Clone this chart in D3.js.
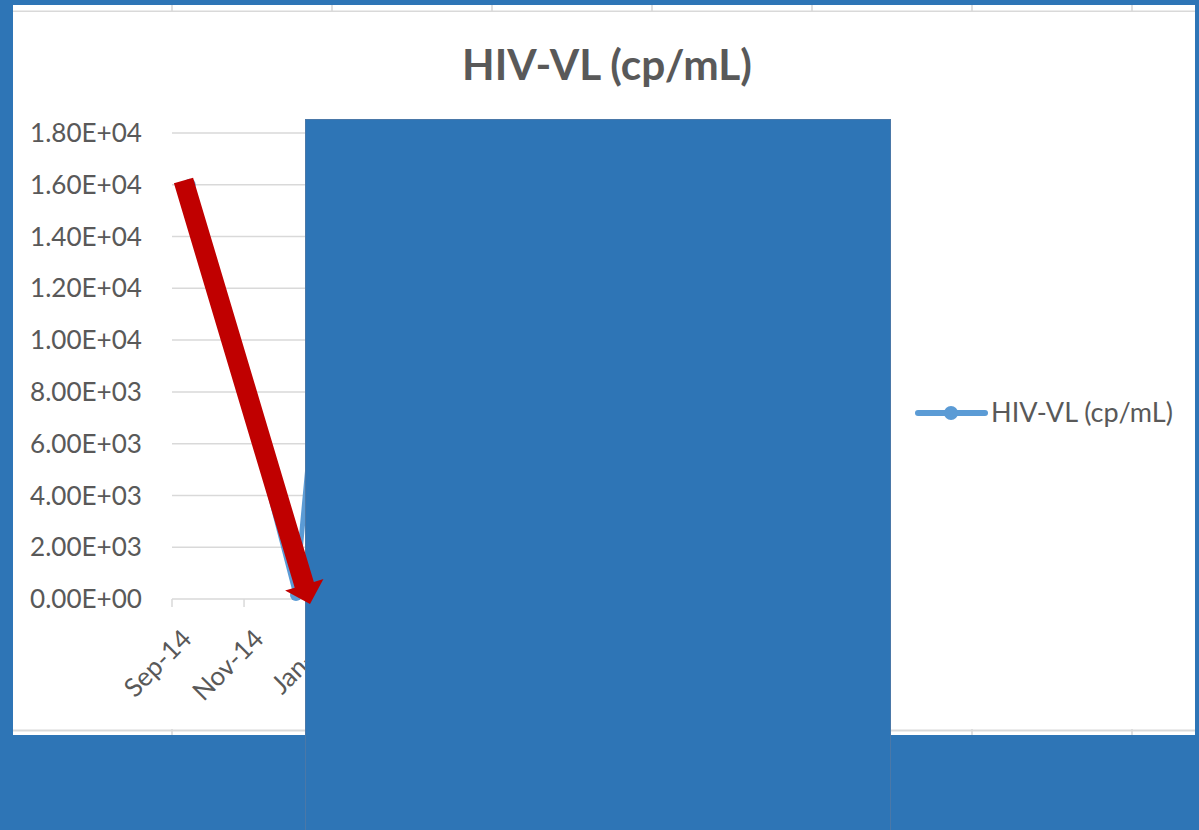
<!DOCTYPE html>
<html>
<head>
<meta charset="utf-8">
<script src="https://cdn.jsdelivr.net/npm/d3@7"></script>
<style>
  html, body { margin: 0; padding: 0; background: #2E75B6; overflow: hidden; }
  svg { display: block; }
</style>
</head>
<body>
<svg id="chart" width="1199" height="830"></svg>
<script>
// ---- data ----
const chartTitle = "HIV-VL (cp/mL)";
const seriesName = "HIV-VL (cp/mL)";
const sampleDates = ["2014-09-16", "2014-12-15", "2015-01-02"];
const viralLoad = [16000, 150, 9000];
const yTicks = [0, 2000, 4000, 6000, 8000, 10000, 12000, 14000, 16000, 18000];
const xTickDates = ["2014-09-01", "2014-11-01", "2015-01-01", "2015-03-01", "2015-05-01",
  "2015-07-01", "2015-09-01", "2015-11-01", "2016-01-01", "2016-03-01"];

// ---- layout ----
const W = 1199, H = 830;
const svg = d3.select("#chart");
const parse = d3.timeParse("%Y-%m-%d");
const FONT = "Lato, 'Open Sans', sans-serif";
const GREY = "#595959";

function fitSize(text, target, weight, base) {
  const t = svg.append("text").attr("font-family", FONT).attr("font-size", base)
    .attr("font-weight", weight).text(text);
  const w = t.node().getComputedTextLength();
  t.remove();
  return base * target / w;
}

// background
svg.append("rect").attr("width", W).attr("height", H).attr("fill", "#2E75B6");

// spreadsheet cell strips behind the chart
const cellX = d3.range(12, 1196, 160).slice(1);
[[5, 12], [729, 735]].forEach(([y0, y1]) => {
  svg.append("rect").attr("x", 13).attr("y", y0).attr("width", 1182).attr("height", y1 - y0).attr("fill", "#ffffff");
  svg.append("g").selectAll("line").data(cellX).join("line")
    .attr("x1", d => d).attr("x2", d => d).attr("y1", y0).attr("y2", y1)
    .attr("stroke", "#d4d4d4").attr("stroke-width", 1.5);
});
svg.append("line").attr("x1", 13).attr("x2", 1195).attr("y1", 11.5).attr("y2", 11.5).attr("stroke", "#d9d9d9").attr("stroke-width", 2);
svg.append("line").attr("x1", 13).attr("x2", 1195).attr("y1", 730.5).attr("y2", 730.5).attr("stroke", "#d9d9d9").attr("stroke-width", 2);

// chart area
svg.append("rect").attr("x", 13).attr("y", 12).attr("width", 1182).attr("height", 717).attr("fill", "#ffffff");

// scales
const x = d3.scaleTime().domain([parse("2014-09-01"), parse("2016-05-01")]).range([172, 890]);
const y = d3.scaleLinear().domain([0, 18000]).range([599, 133]);

// gridlines
svg.append("g").selectAll("line").data(yTicks).join("line")
  .attr("x1", 172).attr("x2", 890).attr("y1", d => y(d)).attr("y2", d => y(d))
  .attr("stroke", "#d9d9d9").attr("stroke-width", 1.5);

// y axis labels
const tickFs = fitSize("1.80E+04", 112, "normal", 20);
const fmt = v => { const s = v.toExponential(2).toUpperCase(); return s.replace(/E([+-])(\d)$/, "E$10$2"); };
svg.append("g").selectAll("text").data(yTicks).join("text")
  .attr("x", 142).attr("y", d => y(d)).attr("dy", "0.35em")
  .attr("text-anchor", "end").attr("font-family", FONT).attr("font-size", tickFs)
  .attr("fill", GREY).text(d => fmt(d));

// x axis ticks and labels
const xt = xTickDates.map(parse);
svg.append("g").selectAll("line").data(xt).join("line")
  .attr("x1", d => x(d)).attr("x2", d => x(d)).attr("y1", 599).attr("y2", 607)
  .attr("stroke", "#d9d9d9").attr("stroke-width", 1.5);
const monthFmt = d3.timeFormat("%b-%y");
svg.append("g").selectAll("text").data(xt).join("text")
  .attr("transform", d => `translate(${x(d3.timeDay.offset(d, 15)) - 3},634) rotate(-45)`)
  .attr("dy", "0.35em").attr("text-anchor", "end")
  .attr("font-family", FONT).attr("font-size", tickFs).attr("fill", GREY)
  .text(d => monthFmt(d));

// series line
const pts = sampleDates.map((d, i) => ({ date: parse(d), v: viralLoad[i] }));
const line = d3.line().x(d => x(d.date)).y(d => y(d.v));
svg.append("path").datum(pts).attr("d", line).attr("fill", "none")
  .attr("stroke", "#5B9BD5").attr("stroke-width", 5).attr("stroke-linejoin", "round").attr("stroke-linecap", "round");
svg.append("g").selectAll("circle").data(pts).join("circle")
  .attr("cx", d => x(d.date)).attr("cy", d => y(d.v)).attr("r", 6).attr("fill", "#5B9BD5");

// title
const titleFs = fitSize(chartTitle, 290, "bold", 30);
svg.append("text").attr("x", 607).attr("y", 80).attr("text-anchor", "middle")
  .attr("font-family", FONT).attr("font-weight", "bold").attr("font-size", titleFs)
  .attr("fill", GREY).text(chartTitle);

// legend
const lg = svg.append("g");
lg.append("line").attr("x1", 918).attr("x2", 985).attr("y1", 413).attr("y2", 413)
  .attr("stroke", "#5B9BD5").attr("stroke-width", 6).attr("stroke-linecap", "round");
lg.append("circle").attr("cx", 951).attr("cy", 413).attr("r", 7).attr("fill", "#5B9BD5");
const legFs = fitSize(seriesName, 182, "normal", 20);
lg.append("text").attr("x", 991).attr("y", 413).attr("dy", "0.35em")
  .attr("font-family", FONT).attr("font-size", legFs).attr("fill", GREY).text(seriesName);

// covering rectangle
svg.append("rect").attr("x", 305.5).attr("y", 119.5).attr("width", 585).attr("height", 720)
  .attr("fill", "#2E75B6").attr("stroke", "#4a78a8").attr("stroke-width", 1);

// red arrow annotation
const tail = [183.5, 180.5], tip = [310, 604];
const dx = tip[0] - tail[0], dy = tip[1] - tail[1], len = Math.hypot(dx, dy);
const u = [dx / len, dy / len], n = [u[1], -u[0]];
const headLen = 20, headHalf = 20, shaftHalf = 10;
const base = [tip[0] - u[0] * headLen, tip[1] - u[1] * headLen];
const P = (p, k, v) => [p[0] + v[0] * k, p[1] + v[1] * k];
const poly = [P(tail, shaftHalf, n), P(base, shaftHalf, n), P(base, headHalf, n), tip,
  P(base, -headHalf, n), P(base, -shaftHalf, n), P(tail, -shaftHalf, n)];
svg.append("polygon").attr("points", poly.map(p => p.join(",")).join(" ")).attr("fill", "#C00000");
</script>
</body>
</html>
